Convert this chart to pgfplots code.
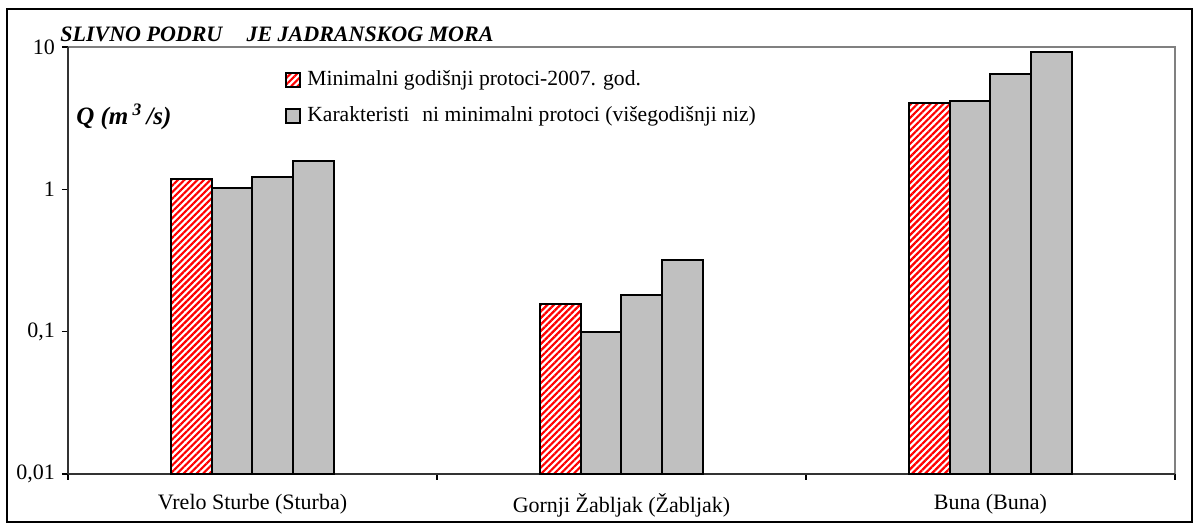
\documentclass[border=0pt]{standalone}
\usepackage{fontspec}
\setmainfont{Liberation Serif}
\usepackage{pgfplots}
\pgfplotsset{compat=1.18}
\usetikzlibrary{patterns.meta}
\definecolor{bargray}{RGB}{192,192,192}
\begin{document}
\begin{tikzpicture}
\useasboundingbox (-34pt,-26.5pt) rectangle (564pt,237pt);
\draw[line width=0.9pt] (-30.5pt,-24pt) rectangle (562pt,232.5pt);
\begin{axis}[
  at={(0pt,0pt)}, anchor=south west,
  scale only axis, width=553.5pt, height=213.5pt,
  ymode=log, log origin=infty,
  ymin=0.01, ymax=10,
  xmin=-0.5, xmax=2.5,
  ytick={0.01,0.1,1,10},
  yticklabels={{0,01},{0,1},{1},{10}},
  yminorticks=false,
  xtick={-0.5,0.5,1.5,2.5}, xticklabels={},
  extra x ticks={0,1,2},
  extra x tick labels={Vrelo Sturbe (Sturba),Gornji Žabljak (Žabljak),Buna (Buna)},
  extra x tick style={major tick length=0pt, tick label style={yshift=-6.5pt}},
  tick align=outside, major tick length=3pt,
  tick style={black, line width=0.6pt},
  axis x line*=bottom, axis y line*=left,
  axis line style={black!80, line width=0.7pt},
  axis background/.style={draw=gray, line width=0.7pt},
  tick label style={font=\fontsize{11}{13}\selectfont},
  legend image code/.code={\draw[#1] (0pt,-3.5pt) rectangle (7pt,3.5pt);},
  legend style={at={(rel axis cs:0.196,0.952)}, anchor=north west, draw=none, fill=none,
    font=\fontsize{10.8}{13}\selectfont, row sep=6pt, column sep=1.5pt, inner sep=0pt,
    nodes={inner sep=1.5pt}},
  legend cell align=left,
  clip=false,
]
\addplot[ybar, bar width=0.111, bar shift=-0.1665, draw=black, line width=1pt,
  pattern={Lines[angle=45,distance=2.3pt,line width=1.1pt]}, pattern color=red]
  coordinates {(0,1.19) (1,0.157) (2,4.02)};
\addlegendentry{Minimalni godišnji protoci-2007. god.}
\addplot[ybar, bar width=0.111, bar shift=-0.0555, draw=black, line width=1pt, fill=bargray]
  coordinates {(0,1.02) (1,0.10) (2,4.15)};
\addlegendentry{Karakteristi\hspace{0.6em}ni minimalni protoci (višegodišnji niz)}
\addplot[ybar, bar width=0.111, bar shift=0.0555, draw=black, line width=1pt, fill=bargray, forget plot]
  coordinates {(0,1.23) (1,0.18) (2,6.43)};
\addplot[ybar, bar width=0.111, bar shift=0.1665, draw=black, line width=1pt, fill=bargray, forget plot]
  coordinates {(0,1.57) (1,0.32) (2,9.18)};
\node[anchor=base west, font=\bfseries\itshape\fontsize{11}{13}\selectfont, inner sep=0pt]
  at (rel axis cs:-0.0072,1.012) {SLIVNO PODRU\hspace{1.1em}JE JADRANSKOG MORA};
\node[anchor=west, font=\bfseries\itshape\fontsize{12.5}{14}\selectfont, inner sep=0pt]
  at (rel axis cs:0.0072,0.836) {Q (m\,\textsuperscript{3}\,/s)};
\end{axis}
\end{tikzpicture}
\end{document}
